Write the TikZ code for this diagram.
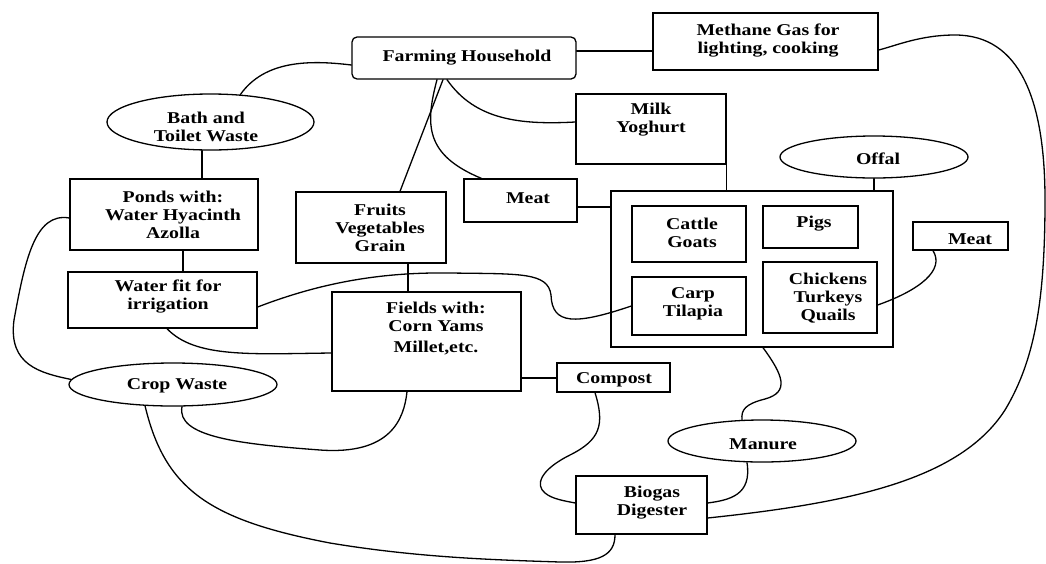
\documentclass[tikz,border=0pt]{standalone}
\usepackage{fontspec}
\newfontfamily\dfont{Liberation Serif}[FakeStretch=1.2]
\usetikzlibrary{shapes.geometric,calc}
\tikzset{
  bx/.style 2 args={draw,line width=1.3pt,inner sep=0pt,minimum width=#1,minimum height=#2},
  el/.style 2 args={ellipse,draw,line width=1.3pt,inner sep=0pt,minimum width=#1,minimum height=#2},
  txt/.style={inner sep=0pt,align=center,font=\dfont\bfseries\fontsize{16.5}{18}\selectfont},
  lk/.style={line width=1.3pt,line cap=round}
}
\begin{document}
\begin{tikzpicture}[x=1pt,y=-1pt]
\useasboundingbox (0,0) rectangle (1046,563);
% boxes
\node[bx={224pt}{42pt},rounded corners=5pt] (fh) at (464,58) {};
\node[bx={225pt}{57pt}] (meth) at (765.5,41.5) {};
\node[bx={150pt}{70pt}] (milk) at (651,129) {};
\node[el={188pt}{42pt}] (offal) at (874,157) {};
\node[bx={113pt}{43pt}] (meatm) at (520.5,200.5) {};
\node[bx={282pt}{156pt}] (big) at (752,269) {};
\node[bx={114pt}{56pt}] (cattle) at (689,234) {};
\node[bx={95pt}{42pt}] (pigs) at (810.5,227) {};
\node[bx={114pt}{58pt}] (carp) at (689,306) {};
\node[bx={114pt}{71pt}] (chick) at (820,297.5) {};
\node[bx={95pt}{28pt}] (meatr) at (960.5,236) {};
\node[el={207pt}{56pt}] (bath) at (210.5,122) {};
\node[bx={188pt}{71pt}] (ponds) at (164,214.5) {};
\node[bx={150pt}{71pt}] (fruits) at (371,227.5) {};
\node[bx={189pt}{56pt}] (water) at (162.5,300) {};
\node[bx={189pt}{99pt}] (fields) at (426.5,341.5) {};
\node[bx={113pt}{29pt}] (compost) at (613.5,377.5) {};
\node[el={208pt}{43pt}] (crop) at (173,384.5) {};
\node[el={188pt}{42pt}] (manure) at (762,441) {};
\node[bx={131pt}{58pt}] (biogas) at (641.5,505) {};
% texts
\node[txt] (fh-t) at (467,58) {Farming Household};
\node[txt] (meth-t) at (768,41) {Methane Gas for\\lighting, cooking};
\node[txt] (milk-t) at (651,120) {Milk\\Yoghurt};
\node[txt] (meatm-t) at (528,198) {Meat};
\node[txt] (offal-t) at (878,159) {Offal};
\node[txt] (cattle-t) at (692,233) {Cattle\\Goats};
\node[txt] (pigs-t) at (814,224) {Pigs};
\node[txt] (carp-t) at (693,304) {Carp\\Tilapia};
\node[txt] (chick-t) at (828,298) {Chickens\\Turkeys\\Quails};
\node[txt] (meatr-t) at (970,239) {Meat};
\node[txt] (bath-t) at (206,127) {Bath and\\Toilet Waste};
\node[txt] (ponds-t) at (173,215) {Ponds with:\\Water Hyacinth\\Azolla};
\node[txt] (fruits-t) at (380,228) {Fruits\\Vegetables\\Grain};
\node[txt] (water-t) at (168,297) {Water fit for\\irrigation};
\node[txt] (fields-t) at (436,329) {Fields with:\\Corn Yams\\[3pt]Millet,etc.};
\node[txt] (compost-t) at (614,380) {Compost};
\node[txt] (crop-t) at (177,386) {Crop Waste};
\node[txt] (manure-t) at (763,444) {Manure};
\node[txt] (biogas-t) at (652,503) {Biogas\\Digester};
% connectors
\draw[lk] ($(bath.north)+(30,1)$) .. controls (265,60) and (310,60) .. ($(fh.west)+(0,7)$);
\draw[lk] ($(fh.east)+(0,-7)$) -- ($(meth.west)+(0,9.5)$);
\draw[lk] ($(fh.south)+(-21,0)$) -- ($(fruits.north)+(29,0)$);
\draw[lk] ($(fh.south)+(-27,0)$) .. controls (425,125) and (425,155) .. ($(meatm.north west)+(18,0)$);
\draw[lk] ($(fh.south)+(-17,0)$) .. controls (475,120) and (520,125) .. ($(milk.west)+(0,-7)$);
\draw[lk] (milk.south east) -- (milk.south east |- big.north);
\draw[lk] (offal.south) -- (offal.south |- big.north);
\draw[lk] ($(meatm.east)+(0,6.5)$) -- ($(big.west)+(0,-62)$);
\draw[lk] ($(meatr.south)+(-27.5,0)$) .. controls (945,270) and (920,290) .. ($(chick.east)+(0,7.5)$);
\draw[lk] ($(bath.south)+(-8.5,0)$) -- ($(ponds.north)+(38,0)$);
\draw[lk] ($(ponds.south)+(19,0)$) -- ($(water.north)+(20.5,0)$);
\draw[lk] ($(fruits.south)+(37,0)$) -- ($(fields.north)+(-18.5,0)$);
\draw[lk] ($(fields.east)+(0,36.5)$) -- ($(compost.west)+(0,0.5)$);
\draw[lk] ($(water.east)+(0,7)$) .. controls (320,283) and (380,272) .. (450,273)
   .. controls (520,274) and (548,272) .. (551,295)
   .. controls (552,325) and (575,325) .. (carp.west);
\draw[lk] ($(water.south)+(4.5,0)$) .. controls (195,358) and (250,354) .. ($(fields.west)+(0,11.5)$);
\draw[lk] ($(ponds.west)+(0,3.5)$) .. controls (35,212) and (25,260) .. (14,320)
   .. controls (8,365) and (40,373) .. ($(crop.west)+(3,-5)$);
\draw[lk] ($(crop.south)+(9,0)$) .. controls (176,437) and (240,444) .. (320,450)
   .. controls (390,455) and (404,420) .. ($(fields.south)+(-19.5,0)$);
\draw[lk] ($(crop.south)+(-28,-1)$) .. controls (165,490) and (210,520) .. (330,543)
   .. controls (420,558) and (500,560) .. (560,562)
   .. controls (600,563) and (615,555) .. ($(biogas.south)+(-26.5,0)$);
\draw[lk] ($(compost.south)+(-18.5,0)$) .. controls (605,425) and (600,440) .. (570,455)
   .. controls (540,470) and (535,485) .. (545,493)
   .. controls (552,499) and (565,501) .. ($(biogas.west)+(0,-2)$);
\draw[lk] ($(big.south)+(11,0)$) .. controls (783,375) and (790,392) .. (765,399)
   .. controls (745,404) and (741,410) .. ($(manure.north)+(-20,0.5)$);
\draw[lk] ($(manure.south)+(-15,0)$) .. controls (752,495) and (730,500) .. ($(biogas.east)+(0,-2)$);
\draw[lk] ($(biogas.east)+(0,13)$) .. controls (850,503) and (960,480) .. (1005,410)
   .. controls (1035,360) and (1045,300) .. (1045,200)
   .. controls (1045,100) and (1020,35) .. (955,35)
   .. controls (920,35) and (895,46) .. ($(meth.east)+(0,8.5)$);
\end{tikzpicture}
\end{document}
